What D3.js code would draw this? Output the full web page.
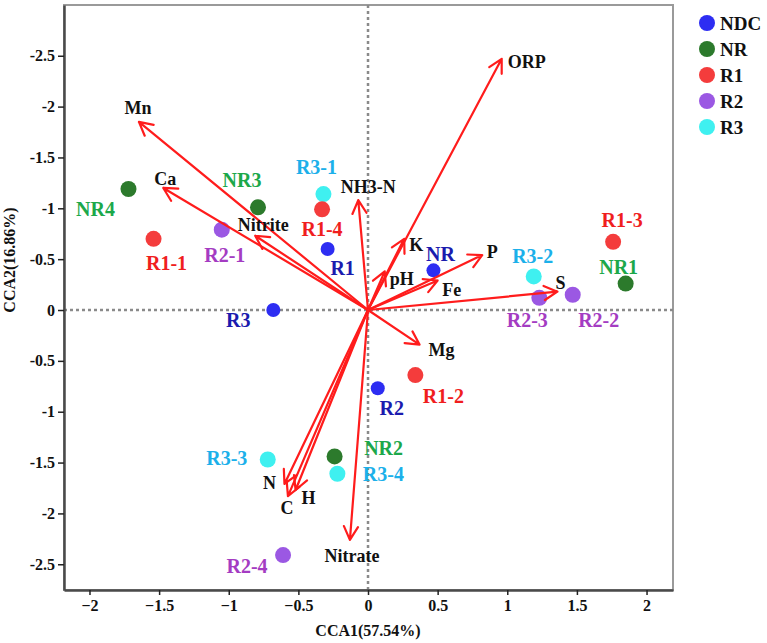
<!DOCTYPE html>
<html>
<head>
<meta charset="utf-8">
<script src="https://cdn.jsdelivr.net/npm/d3@7"></script>
<style>
  html, body { margin: 0; padding: 0; background: #fff; }
  svg text { font-family: "Liberation Serif", "Times New Roman", serif; font-weight: bold; }
</style>
</head>
<body>
<svg id="chart" width="767" height="643"></svg>
<script>
// sample scores (CCA1, CCA2)
const siteNames = ['NR4', 'R1-1', 'R2-1', 'NR3', 'R3-1', 'R1-4', 'R1', 'R3', 'NR', 'R1-3',
                   'NR1', 'R3-2', 'R2-3', 'R2-2', 'R3-3', 'NR2', 'R3-4', 'R2-4', 'R2', 'R1-2'];
const siteGroups = ['NR', 'R1', 'R2', 'NR', 'R3', 'R1', 'NDC', 'NDC', 'NDC', 'R1',
                    'NR', 'R3', 'R2', 'R2', 'R3', 'NR', 'R3', 'R2', 'NDC', 'R1'];
const siteCCA1 = [-1.72, -1.54, -1.05, -0.79, -0.32, -0.33, -0.29, -0.68, 0.47, 1.76,
                  1.85, 1.19, 1.23, 1.47, -0.72, -0.24, -0.22, -0.61, 0.07, 0.34];
const siteCCA2 = [1.19, 0.70, 0.79, 1.01, 1.14, 0.99, 0.60, 0.00, 0.39, 0.67,
                  0.26, 0.33, 0.12, 0.15, -1.47, -1.44, -1.61, -2.41, -0.77, -0.64];

// environmental vectors
const envNames = ['Mn', 'Ca', 'Nitrite', 'NH3-N', 'ORP', 'K', 'pH', 'P', 'Fe', 'S', 'Mg', 'N', 'C', 'H', 'Nitrate'];
const envCCA1 = [-1.645, -1.47, -0.81, -0.07, 0.96, 0.26, 0.12, 0.82, 0.50, 1.36, 0.37, -0.60, -0.575, -0.52, -0.13];
const envCCA2 = [1.85, 1.20, 0.73, 1.08, 2.47, 0.70, 0.38, 0.54, 0.29, 0.18, -0.34, -1.71, -1.83, -1.77, -2.26];

const groupNames = ['NDC', 'NR', 'R1', 'R2', 'R3'];
const xTicks = [-2, -1.5, -1, -0.5, 0, 0.5, 1, 1.5, 2];
const yTicks = [-2.5, -2, -1.5, -1, -0.5, 0, 0.5, 1, 1.5, 2, 2.5];

// styling
const pointColor = { NDC: '#2d2df2', NR: '#2c7a2c', R1: '#f43c3c', R2: '#9b58e3', R3: '#3ff0f0' };
const labelColor = { NDC: '#1b1bae', NR: '#1ca84a', R1: '#f01e1e', R2: '#a43cc2', R3: '#1cb0ea' };
const siteLabelOffset = {
  'NR4': [-33, 20], 'R1-1': [13, 24], 'R2-1': [3, 25], 'NR3': [-16, -27], 'R3-1': [-7, -27],
  'R1-4': [0, 20], 'R1': [15, 19], 'R3': [-35, 10], 'NR': [7, -16], 'R1-3': [9, -22],
  'NR1': [-7, -17], 'R3-2': [-1, -20], 'R2-3': [-12, 22], 'R2-2': [26, 25], 'R3-3': [-41, -2],
  'NR2': [49, -8], 'R3-4': [46, 0], 'R2-4': [-36, 11], 'R2': [14, 20], 'R1-2': [28, 21]
};
const envLabelOffset = {
  'Mn': [-1, -14], 'Ca': [2, -9], 'Nitrite': [8, -11], 'NH3-N': [10, -13], 'ORP': [25, 3],
  'K': [12, 6], 'pH': [17, 8], 'P': [10, -3], 'Fe': [14, 9], 'S': [3, -9], 'Mg': [22, 5],
  'N': [-15, -1], 'C': [-1, 12], 'H': [13, 8], 'Nitrate': [2, 16]
};

const margin = { left: 64, right: 673, top: 5, bottom: 590 };
const svg = d3.select('#chart');

const x = d3.scaleLinear().domain([-2.183, 2.19]).range([margin.left, margin.right]);
const y = d3.scaleLinear().domain([-2.753, 2.999]).range([margin.bottom, margin.top]);

// frame (top/right grey)
svg.append('rect')
  .attr('x', margin.left).attr('y', margin.top)
  .attr('width', margin.right - margin.left).attr('height', margin.bottom - margin.top)
  .attr('fill', 'none').attr('stroke', '#9a9a9a').attr('stroke-width', 2);

// zero reference lines
svg.append('line')
  .attr('x1', x(0)).attr('x2', x(0)).attr('y1', margin.top).attr('y2', margin.bottom)
  .attr('stroke', '#8a8a8a').attr('stroke-width', 2.5).attr('stroke-dasharray', '3,3');
svg.append('line')
  .attr('x1', margin.left).attr('x2', margin.right).attr('y1', y(0)).attr('y2', y(0))
  .attr('stroke', '#8a8a8a').attr('stroke-width', 2.5).attr('stroke-dasharray', '3,3');

// axes
const xAxis = svg.append('g')
  .attr('transform', `translate(0,${margin.bottom})`)
  .call(d3.axisBottom(x).tickValues(xTicks).tickSize(5).tickPadding(5).tickSizeOuter(0)
    .tickFormat(d => d3.format('')(d)));
const yAxis = svg.append('g')
  .attr('transform', `translate(${margin.left},0)`)
  .call(d3.axisLeft(y).tickValues(yTicks).tickSize(6).tickPadding(3).tickSizeOuter(0)
    .tickFormat(d => d === 0 ? '0' : '-' + Math.abs(d)));

[xAxis, yAxis].forEach(a => {
  a.select('.domain').attr('stroke', '#4a4a4a').attr('stroke-width', 2.5);
  a.selectAll('.tick line').attr('stroke', '#222').attr('stroke-width', 1.5);
  a.selectAll('.tick text')
    .attr('fill', '#111')
    .style('font-family', '"Liberation Serif", "Times New Roman", serif')
    .style('font-weight', 'bold')
    .style('font-size', '16px');
});

// axis titles
svg.append('text')
  .attr('x', x(0)).attr('y', 636)
  .attr('text-anchor', 'middle').attr('font-size', 16).attr('fill', '#111')
  .text('CCA1(57.54%)');
svg.append('text')
  .attr('transform', 'translate(15,260) rotate(-90)')
  .attr('text-anchor', 'middle').attr('font-size', 16).attr('fill', '#111')
  .text('CCA2(16.86%)');

// sample points
const sites = siteNames.map((n, i) => ({ name: n, group: siteGroups[i], cx: siteCCA1[i], cy: siteCCA2[i] }));

svg.append('g').selectAll('circle')
  .data(sites)
  .join('circle')
  .attr('cx', d => x(d.cx))
  .attr('cy', d => y(d.cy))
  .attr('r', d => d.group === 'NDC' ? 7 : 8)
  .attr('fill', d => pointColor[d.group]);

svg.append('g').selectAll('text')
  .data(sites)
  .join('text')
  .attr('x', d => x(d.cx) + siteLabelOffset[d.name][0])
  .attr('y', d => y(d.cy) + siteLabelOffset[d.name][1] + 7)
  .attr('text-anchor', 'middle')
  .attr('font-size', 20)
  .attr('fill', d => labelColor[d.group])
  .text(d => d.name);

// environmental arrows
const envs = envNames.map((n, i) => ({ name: n, ex: envCCA1[i], ey: envCCA2[i] }));
const arrowG = svg.append('g')
  .attr('stroke', '#ff1c1c').attr('stroke-width', 2.2).attr('fill', 'none')
  .attr('stroke-linecap', 'round').attr('stroke-linejoin', 'round');

const headLen = 15, headAng = 28 * Math.PI / 180;
arrowG.selectAll('path')
  .data(envs)
  .join('path')
  .attr('d', d => {
    const x0 = x(0), y0 = y(0), x1 = x(d.ex), y1 = y(d.ey);
    const a = Math.atan2(y1 - y0, x1 - x0);
    const l = [x1 - headLen * Math.cos(a - headAng), y1 - headLen * Math.sin(a - headAng)];
    const r = [x1 - headLen * Math.cos(a + headAng), y1 - headLen * Math.sin(a + headAng)];
    return `M${x0},${y0}L${x1},${y1}M${l[0]},${l[1]}L${x1},${y1}L${r[0]},${r[1]}`;
  });

svg.append('g').selectAll('text')
  .data(envs)
  .join('text')
  .attr('x', d => x(d.ex) + envLabelOffset[d.name][0])
  .attr('y', d => y(d.ey) + envLabelOffset[d.name][1] + 6)
  .attr('text-anchor', 'middle')
  .attr('font-size', 18)
  .attr('fill', '#111')
  .text(d => d.name);

// legend
const legend = svg.append('g').attr('transform', 'translate(707,23)');
const lg = legend.selectAll('g')
  .data(groupNames)
  .join('g')
  .attr('transform', (d, i) => `translate(0,${i * 26})`);
lg.append('circle').attr('r', 8).attr('fill', d => pointColor[d]);
lg.append('text').attr('x', 13).attr('y', 7).attr('font-size', 19).attr('fill', '#111').text(d => d);
</script>
</body>
</html>
